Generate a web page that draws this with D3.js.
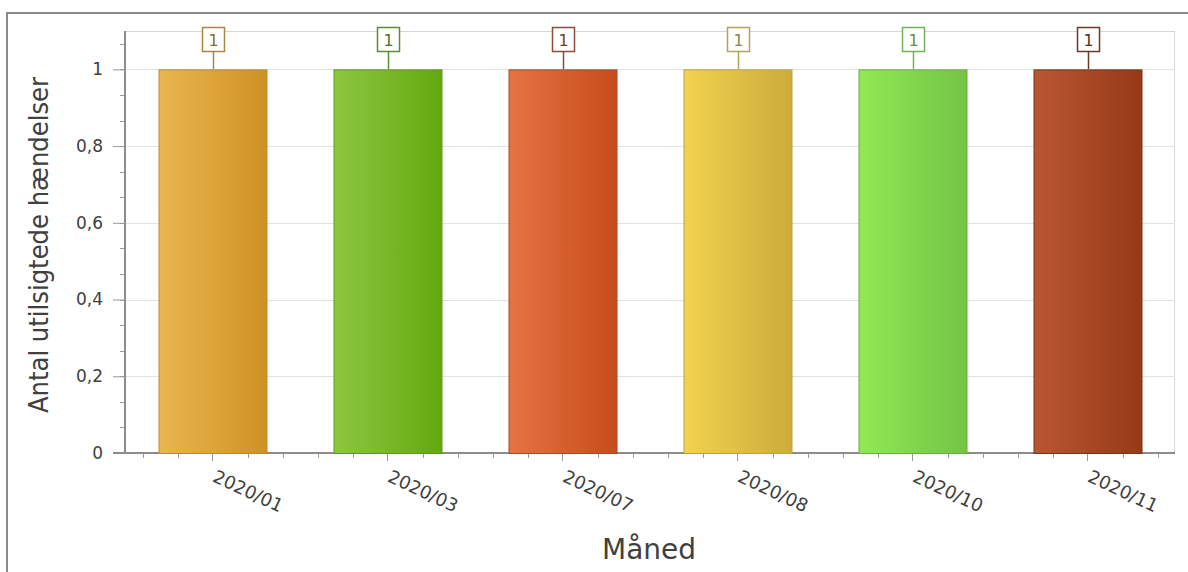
<!DOCTYPE html>
<html>
<head>
<meta charset="utf-8">
<script src="https://cdn.jsdelivr.net/npm/d3@7"></script>
<style>
  html, body { margin: 0; padding: 0; background: #fff; }
  svg { display: block; }
  text { font-family: "DejaVu Sans", Verdana, sans-serif; }
</style>
</head>
<body>
<svg id="chart" width="1188" height="572"></svg>
<script>
// Monthly counts of unintended events
const months = ["2020/01", "2020/03", "2020/07", "2020/08", "2020/10", "2020/11"];
const counts = [1, 1, 1, 1, 1, 1];
const yTicks = [0, 0.2, 0.4, 0.6, 0.8, 1];
const yTickLabels = ["0", "0,2", "0,4", "0,6", "0,8", "1"];

// per-bar palette: gradient start, gradient end, outline, label frame
const barLight  = ["#eab650", "#8dc741", "#e67342", "#f2d24e", "#90e955", "#ba5733"];
const barDark   = ["#cf9124", "#63a80e", "#c74b1b", "#ccac3c", "#73c445", "#963917"];
const barStroke = ["#b98a30", "#5c9a1e", "#a84a2c", "#bfa23c", "#68b040", "#7a3219"];
const tagStroke = ["#a88848", "#5e8c34", "#8c4c3a", "#b2a458", "#72b255", "#6a3a2c"];

const svg = d3.select("#chart");
const W = 1188, H = 572;
const plot = { left: 125, right: 1175, top: 31, bottom: 453 };

// outer frame
svg.append("rect")
  .attr("x", 7).attr("y", 13)
  .attr("width", W + 10).attr("height", H + 10)
  .attr("fill", "none").attr("stroke", "#8a8a8a").attr("stroke-width", 2);

const x = d3.scaleBand().domain(months).range([plot.left, plot.right]).padding(0);
const y = d3.scaleLinear().domain([0, 1.1]).range([plot.bottom, plot.top]);

// gradients
const defs = svg.append("defs");
months.forEach((m, i) => {
  const g = defs.append("linearGradient").attr("id", "grad" + i)
    .attr("x1", "0%").attr("x2", "100%").attr("y1", "0%").attr("y2", "0%");
  g.append("stop").attr("offset", "0%").attr("stop-color", barLight[i]);
  g.append("stop").attr("offset", "100%").attr("stop-color", barDark[i]);
});

// plot frame (top/right) and gridlines
svg.append("line").attr("x1", plot.left).attr("x2", plot.right)
  .attr("y1", plot.top + 0.5).attr("y2", plot.top + 0.5).attr("stroke", "#d6d6d6");
svg.append("line").attr("x1", plot.right - 0.5).attr("x2", plot.right - 0.5)
  .attr("y1", plot.top).attr("y2", plot.bottom).attr("stroke", "#d6d6d6");
svg.append("g").selectAll("line").data(yTicks.filter(v => v > 0)).join("line")
  .attr("x1", plot.left).attr("x2", plot.right)
  .attr("y1", d => Math.round(y(d)) + 0.5).attr("y2", d => Math.round(y(d)) + 0.5)
  .attr("stroke", "#e2e2e2");

// y axis: major ticks with labels, minor ticks at thirds
const yMinor = d3.range(0, 33).map(k => k * 0.2 / 3).filter(v => v <= 1.1 + 1e-9);
svg.append("g").selectAll("line").data(yMinor).join("line")
  .attr("x1", plot.left - 5).attr("x2", plot.left)
  .attr("y1", d => Math.round(y(d)) + 0.5).attr("y2", d => Math.round(y(d)) + 0.5)
  .attr("stroke", "#9a9a9a");
const yAxis = d3.axisLeft(y).tickValues(yTicks)
  .tickFormat((d, i) => yTickLabels[i]).tickSize(12).tickPadding(10);
const yg = svg.append("g").attr("transform", `translate(${plot.left},0)`).call(yAxis);
yg.select(".domain").attr("stroke", "#8c8c8c").attr("stroke-width", 2);
yg.selectAll(".tick line").attr("stroke", "#9a9a9a");
yg.selectAll(".tick text").attr("fill", "#404040").attr("font-size", 17);
yg.select(".domain").attr("d", `M0,${plot.top}V${plot.bottom}`);

// x axis: major tick at each band centre, minor ticks every fifth of a band
const bw = x.bandwidth();
const xMinor = [];
months.forEach(m => { for (let k = -2; k <= 2; k++) if (k !== 0) xMinor.push(x(m) + bw / 2 + k * bw / 5); });
svg.append("g").selectAll("line").data(xMinor).join("line")
  .attr("x1", d => Math.round(d) + 0.5).attr("x2", d => Math.round(d) + 0.5)
  .attr("y1", plot.bottom).attr("y2", plot.bottom + 5).attr("stroke", "#9a9a9a");
const xAxis = d3.axisBottom(x).tickSize(8).tickFormat("");
const xg = svg.append("g").attr("transform", `translate(0,${plot.bottom})`).call(xAxis);
xg.select(".domain").attr("d", `M${plot.left - 12},0H${plot.right}`)
  .attr("stroke", "#8c8c8c").attr("stroke-width", 2);
xg.selectAll(".tick line").attr("stroke", "#9a9a9a");

// rotated month labels
svg.append("g").selectAll("text").data(months).join("text")
  .attr("transform", d => `translate(${x(d) + bw / 2 - 1},${plot.bottom + 28}) rotate(25)`)
  .attr("font-size", 18).attr("fill", "#404040")
  .text(d => d);

// bars
const barW = 108;
svg.append("g").selectAll("rect").data(counts).join("rect")
  .attr("x", (d, i) => x(months[i]) + bw / 2 - barW / 2 + 0.5)
  .attr("y", d => y(d) + 0.5)
  .attr("width", barW)
  .attr("height", d => y(0) - y(d))
  .attr("fill", (d, i) => `url(#grad${i})`)
  .attr("stroke", (d, i) => barStroke[i]).attr("stroke-width", 1);

// value tags above the bars
const tags = svg.append("g").selectAll("g").data(counts).join("g")
  .attr("transform", (d, i) => `translate(${Math.round(x(months[i]) + bw / 2)},${Math.round(y(d))})`);
tags.append("line").attr("x1", 0.5).attr("x2", 0.5).attr("y1", -17).attr("y2", 0)
  .attr("stroke", (d, i) => tagStroke[i]).attr("stroke-width", 1.5);
tags.append("rect").attr("x", -10.5).attr("y", -41.5).attr("width", 22).attr("height", 24)
  .attr("fill", "#fff").attr("stroke", (d, i) => tagStroke[i]).attr("stroke-width", 1.5);
tags.append("text").attr("x", 0.5).attr("y", -23.5).attr("text-anchor", "middle")
  .attr("font-size", 16).attr("fill", (d, i) => d3.color(tagStroke[i]).darker(0.6))
  .text(d => d);

// axis titles
svg.append("text")
  .attr("transform", `translate(48,${(plot.top + plot.bottom) / 2 + 3}) rotate(-90)`)
  .attr("text-anchor", "middle").attr("font-size", 27).attr("fill", "#404040")
  .style("font-family", "'DejaVu Sans Condensed', 'DejaVu Sans', sans-serif")
  .text("Antal utilsigtede hændelser");
svg.append("text")
  .attr("x", 649).attr("y", 559)
  .attr("text-anchor", "middle").attr("font-size", 28).attr("fill", "#404040")
  .text("Måned");
</script>
</body>
</html>
